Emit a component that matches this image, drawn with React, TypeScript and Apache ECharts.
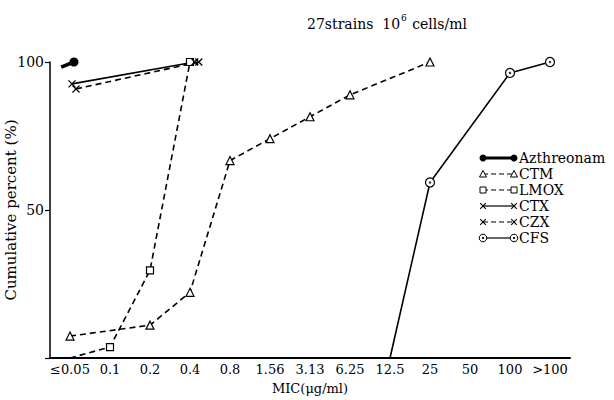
import React, { useEffect, useRef } from "react";
import * as echarts from "echarts";

const categories = ["≤0.05", "0.1", "0.2", "0.4", "0.8", "1.56", "3.13", "6.25", "12.5", "25", "50", "100", ">100"];

// [category position, cumulative percent]
const aztreonam: [number, number][] = [[-0.22, 98.3], [0.1, 100]];
const ctm: [number, number][] = [[0, 7.4], [2, 11.1], [3, 22.2], [4, 66.7], [5, 74.1], [6, 81.5], [7, 88.9], [9, 100]];
const lmox: [number, number][] = [[0, 0], [1, 3.7], [2, 29.6], [3, 100]];
const ctx: [number, number][] = [[0.05, 92.6], [3.12, 100]];
const czx: [number, number][] = [[0.15, 90.9], [3.22, 100]];
const cfs: [number, number][] = [[8, 0], [9, 59.3], [11, 96.3], [12, 100]];

const legendNames = ["Azthreonam", "CTM", "LMOX", "CTX", "CZX", "CFS"];

const FONT = "DejaVu Serif";
const CROSS = "path://M0,0L10,10M10,0L0,10";

export default function App() {
  const ref = useRef<HTMLDivElement>(null);
  useEffect(() => {
    if (!ref.current) return;
    const chart = echarts.init(ref.current, undefined, { renderer: "svg" });

    const dashed = { color: "#000", width: 1.6, type: [6, 4] as any };
    const solid = { color: "#000", width: 1.6, type: "solid" as any };

    const noFirst = (arr: [number, number][]) =>
      arr.map((p, i) => (i === 0 ? { value: p, symbol: "none" } : { value: p }));

    const series: any[] = [
      {
        name: "Azthreonam", type: "line", xAxisIndex: 1, data: noFirst(aztreonam),
        lineStyle: { color: "#000", width: 3.5 }, symbol: "circle", symbolSize: 9, itemStyle: { color: "#000" },
      },
      {
        name: "CTM", type: "line", xAxisIndex: 1, data: ctm, lineStyle: dashed,
        symbol: "triangle", symbolSize: 8, itemStyle: { color: "#fff", borderColor: "#000", borderWidth: 1.2 }, z: 3,
      },
      {
        name: "LMOX", type: "line", xAxisIndex: 1, data: noFirst(lmox), lineStyle: dashed,
        symbol: "rect", symbolSize: 7, itemStyle: { color: "#fff", borderColor: "#000", borderWidth: 1.2 }, z: 3,
      },
      {
        name: "CTX", type: "line", xAxisIndex: 1, data: ctx, lineStyle: solid,
        symbol: CROSS, symbolSize: 7, itemStyle: { color: "none", borderColor: "#000", borderWidth: 1.3 },
      },
      {
        name: "CZX", type: "line", xAxisIndex: 1, data: czx, lineStyle: dashed,
        symbol: CROSS, symbolSize: 7, itemStyle: { color: "none", borderColor: "#000", borderWidth: 1.3 },
      },
      {
        name: "CFS", type: "line", xAxisIndex: 1, data: noFirst(cfs), lineStyle: solid,
        symbol: "circle", symbolSize: 9, itemStyle: { color: "#fff", borderColor: "#000", borderWidth: 1.2 }, z: 3,
      },
      {
        name: "CFS-dot", type: "scatter", xAxisIndex: 1, data: cfs.slice(1),
        symbol: "circle", symbolSize: 2.5, itemStyle: { color: "#000" }, z: 4, silent: true,
      },
    ];

    // legend graphics
    const legendEls: any[] = [];
    const lx0 = 483, lx1 = 514, ly0 = 158, gap = 16;
    const markerEl = (kind: string, x: number, y: number): any[] => {
      switch (kind) {
        case "Azthreonam":
          return [{ type: "circle", shape: { cx: x, cy: y, r: 3.5 }, style: { fill: "#000" } }];
        case "CTM":
          return [{ type: "polygon", shape: { points: [[x - 3.5, y + 3], [x + 3.5, y + 3], [x, y - 3.5]] }, style: { fill: "#fff", stroke: "#000", lineWidth: 1 } }];
        case "LMOX":
          return [{ type: "rect", shape: { x: x - 3, y: y - 3, width: 6, height: 6 }, style: { fill: "#fff", stroke: "#000", lineWidth: 1 } }];
        case "CTX":
        case "CZX":
          return [
            { type: "line", shape: { x1: x - 2.8, y1: y - 2.8, x2: x + 2.8, y2: y + 2.8 }, style: { stroke: "#000", lineWidth: 1.1 } },
            { type: "line", shape: { x1: x + 2.8, y1: y - 2.8, x2: x - 2.8, y2: y + 2.8 }, style: { stroke: "#000", lineWidth: 1.1 } },
          ];
        default:
          return [
            { type: "circle", shape: { cx: x, cy: y, r: 3.8 }, style: { fill: "#fff", stroke: "#000", lineWidth: 1 } },
            { type: "circle", shape: { cx: x, cy: y, r: 1.1 }, style: { fill: "#000" } },
          ];
      }
    };
    legendNames.forEach((name, i) => {
      const y = ly0 + i * gap;
      const isDash = name === "CTM" || name === "LMOX" || name === "CZX";
      legendEls.push({
        type: "line",
        shape: { x1: lx0, y1: y, x2: lx1, y2: y },
        style: { stroke: "#000", lineWidth: name === "Azthreonam" ? 3 : 1.2, lineDash: isDash ? [5, 3] : null },
      });
      legendEls.push(...markerEl(name, lx0, y), ...markerEl(name, lx1, y));
      legendEls.push({
        type: "text", x: 519, y: y,
        style: { text: name, fontFamily: FONT, fontSize: 14, fill: "#000", verticalAlign: "middle", align: "left" },
      });
    });

    chart.setOption({
      animation: false,
      backgroundColor: "#fff",
      title: {
        text: "{n|27strains  10}{s|6}{n| cells/ml}",
        left: 302, top: 8,
        textStyle: {
          fontWeight: "normal",
          rich: {
            n: { fontFamily: FONT, fontSize: 14, fontWeight: "normal", color: "#000", verticalAlign: "bottom", lineHeight: 18 },
            s: { fontFamily: FONT, fontSize: 9, fontWeight: "normal", color: "#000", verticalAlign: "top", lineHeight: 18, padding: [0, 1, 8, 1] },
          },
        },
      },
      grid: { left: 50, right: 44, top: 62, bottom: 42, outerBoundsMode: "none", containLabel: false },
      xAxis: [
        {
          type: "category", data: categories, boundaryGap: true,
          axisLine: { lineStyle: { color: "#000", width: 2 } },
          axisTick: { inside: true, alignWithLabel: true, length: 5, lineStyle: { color: "#000", width: 1.2 } },
          axisLabel: { color: "#000", fontFamily: FONT, fontSize: 13, margin: 5, interval: 0 },
          name: "MIC(μg/ml)", nameLocation: "middle", nameGap: 24, nameMoveOverlap: false,
          nameTextStyle: { color: "#000", fontFamily: FONT, fontSize: 13 },
        },
        { type: "value", min: -0.5, max: 12.5, show: false },
      ],
      yAxis: {
        type: "value", min: 0, max: 100, interval: 50,
        axisLine: { show: true, onZero: false, lineStyle: { color: "#000", width: 1.5 } },
        axisTick: { show: true, length: 5, lineStyle: { color: "#000", width: 1.2 } },
        splitLine: { show: false },
        axisLabel: { color: "#000", fontFamily: FONT, fontSize: 14, margin: 6, formatter: (v: number) => (v === 0 ? "" : String(v)) },
        name: "Cumulative percent (%)", nameLocation: "middle", nameGap: 32, nameMoveOverlap: false,
        nameTextStyle: { color: "#000", fontFamily: FONT, fontSize: 15 },
      },
      graphic: legendEls,
      series,
    });
    return () => chart.dispose();
  }, []);
  return <div ref={ref} style={{ width: 614, height: 400, position: "fixed", left: 0, top: 0 }} />;
}
